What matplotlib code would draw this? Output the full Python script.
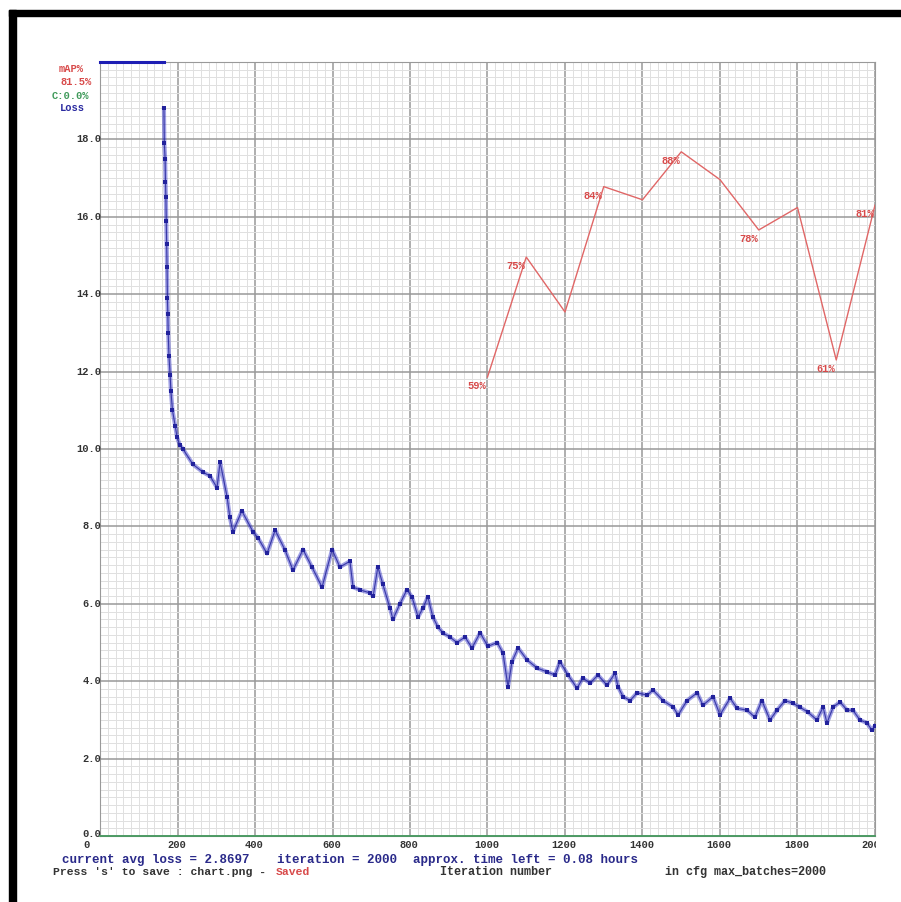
import matplotlib
matplotlib.use("Agg")
import matplotlib.pyplot as plt
from matplotlib.patches import Rectangle
from matplotlib.transforms import Bbox, TransformedBbox

max_batches = 2000
y_max = 20.0
clip_until = 165          # loss above chart top up to this iteration

loss_iters = [165, 166, 168, 169, 170, 171, 172, 173, 174, 175, 176, 178, 181, 183, 187,
              194, 199, 206, 214, 240, 266, 284, 302, 310, 328, 335, 343, 366, 395, 408,
              431, 452, 477, 498, 524, 547, 573, 599, 619, 645, 653, 671, 697, 705, 717,
              730, 748, 756, 774, 792, 805, 821, 834, 846, 859, 872, 885, 903, 921, 942,
              960, 981, 1001, 1025, 1040, 1053, 1063, 1079, 1102, 1128, 1154, 1174, 1187,
              1208, 1231, 1246, 1265, 1285, 1308, 1329, 1337, 1350, 1368, 1386, 1412, 1427,
              1453, 1479, 1492, 1515, 1541, 1556, 1582, 1600, 1626, 1644, 1670, 1690, 1708,
              1729, 1747, 1768, 1788, 1806, 1827, 1850, 1866, 1876, 1892, 1910, 1928, 1943,
              1961, 1979, 1992, 2000]
loss_values = [18.8, 17.9, 17.5, 16.9, 16.5, 15.9, 15.3, 14.7, 13.9, 13.5, 13.0, 12.4, 11.9,
               11.5, 11.0, 10.6, 10.3, 10.1, 10.0, 9.6, 9.4, 9.3, 9.0, 9.66, 8.76, 8.24, 7.86,
               8.4, 7.86, 7.7, 7.3, 7.9, 7.4, 6.87, 7.4, 6.95, 6.43, 7.4, 6.95, 7.1, 6.43, 6.36,
               6.28, 6.2, 6.95, 6.5, 5.9, 5.6, 6.0, 6.36, 6.18, 5.66, 5.9, 6.18, 5.66, 5.4,
               5.25, 5.14, 5.0, 5.14, 4.86, 5.25, 4.9, 5.0, 4.73, 3.85, 4.5, 4.86, 4.55, 4.34,
               4.24, 4.16, 4.5, 4.16, 3.82, 4.08, 3.95, 4.16, 3.9, 4.2, 3.85, 3.6, 3.5, 3.7,
               3.64, 3.77, 3.5, 3.33, 3.13, 3.5, 3.7, 3.38, 3.6, 3.13, 3.56, 3.3, 3.25, 3.07,
               3.5, 3.0, 3.25, 3.5, 3.43, 3.33, 3.2, 3.0, 3.33, 2.92, 3.33, 3.46, 3.25, 3.25,
               3.0, 2.92, 2.74, 2.85]

map_iters = [1000, 1100, 1200, 1300, 1400, 1500, 1600, 1700, 1800, 1900, 2000]
map_values = [59.3, 74.8, 67.7, 83.9, 82.2, 88.4, 84.8, 78.3, 81.2, 61.5, 81.5]
map_labels = ["59%", "75%", "", "84%", "", "88%", "", "78%", "", "61%", "81%"]
precision_c = 0.0

x_ticks = [0, 200, 400, 600, 800, 1000, 1200, 1400, 1600, 1800, 2000]
y_ticks = [0, 2, 4, 6, 8, 10, 12, 14, 16, 18]

W, H = 901, 902
fig = plt.figure(figsize=(W / 100, H / 100), dpi=100)
fig.patch.set_facecolor("white")

def fx(px):
    return px / W

def fy(py):
    return 1 - py / H

ax = fig.add_axes([fx(100), fy(836), fx(875) - fx(100), fy(62) - fy(836)])
ax.set_xlim(0, max_batches)
ax.set_ylim(0, y_max)

# grid like darknet: major every 1/10, minor every 1/100
ax.set_xticks(range(0, max_batches + 1, 200))
ax.set_xticks(range(0, max_batches + 1, 20), minor=True)
ax.set_yticks([v * 2 for v in range(11)])
ax.set_yticks([v * 0.2 for v in range(101)], minor=True)
ax.grid(which="minor", color="#e0e0e0", lw=0.7)
ax.grid(which="major", color="#999999", lw=1.1)
ax.tick_params(which="both", length=0, labelbottom=False, labelleft=False)
for s in ax.spines.values():
    s.set_color("#999999")
ax.set_axisbelow(True)

blue = "#2a2ac4"
red = "#d84a4a"
green = "#3f9a5a"

# loss
ax.plot([0, clip_until], [y_max, y_max], color="#1e1eb4", lw=2.2, clip_on=False, zorder=4)
ax.plot(loss_iters, loss_values, color=blue, lw=3.0, alpha=0.45, zorder=4)
ax.plot(loss_iters, loss_values, color="#20209a", lw=0.8, alpha=0.8, zorder=4)
ax.plot(loss_iters, loss_values, "s", color="#22229c", ms=2.2, mew=0, zorder=5)
ax.plot([0, max_batches], [precision_c, precision_c], color=green, lw=1.2, zorder=4, clip_on=False)

# mAP on its own 0..100 scale
ax2 = ax.twinx()
ax2.set_ylim(0, 100)
ax2.set_axis_off()
ax2.plot(map_iters, map_values, color="#e06666", lw=1.0)
for it, v, lab in zip(map_iters, map_values, map_labels):
    if lab:
        ax2.annotate(lab, (it, v), xytext=(-1, -9), textcoords="offset pixels",
                     ha="right", va="center", color=red, fontsize=7.5,
                     family="Liberation Mono", fontweight="bold")

mono = dict(family="Liberation Mono", fontweight="bold")
dark = "#333333"
clip = TransformedBbox(Bbox([[0, 0], [876 / W, 1]]), fig.transFigure)

for v in y_ticks:
    ax.annotate("%.1f" % v, (0, v), xytext=(1, 2 if v == 0 else 0), textcoords="offset pixels",
                ha="right", va="center", fontsize=7.5, color=dark, **mono)
for v in x_ticks:
    t = ax.annotate(str(v), (v, 0), xycoords=("data", "axes fraction"),
                    xytext=(-14 if v == 0 else -1, -9), textcoords="offset pixels",
                    ha="center", va="center", fontsize=7.5, color=dark, **mono)
    t.set_clip_box(clip)
    t.set_clip_on(True)

# legend-like labels at top left
fig.text(fx(59), fy(69), "mAP%", color=red, fontsize=7.5, va="center", **mono)
fig.text(fx(60), fy(82), "%.1f%%" % map_values[-1], color=red, fontsize=7.5, va="center", **mono)
fig.text(fx(52), fy(96), "C:%.1f%%" % precision_c, color=green, fontsize=7.5, va="center", **mono)
fig.text(fx(60), fy(108), "Loss", color="#2a2aa0", fontsize=7.5, va="center", **mono)

# bottom status lines
tb = "#2a2a8a"
fig.text(fx(62), fy(860), "current avg loss = 2.8697", color=tb, fontsize=9, va="center", **mono)
fig.text(fx(277), fy(860), "iteration = 2000", color=tb, fontsize=9, va="center", **mono)
fig.text(fx(413), fy(860), "approx. time left = 0.08 hours", color=tb, fontsize=9, va="center", **mono)
fig.text(fx(53), fy(872), "Press 's' to save : chart.png -", color=dark, fontsize=8.2, va="center", **mono)
fig.text(fx(276), fy(872), "Saved", color=red, fontsize=8.2, va="center", **mono)
fig.text(fx(440), fy(872), "Iteration number", color=dark, fontsize=8.5, va="center", **mono)
fig.text(fx(665), fy(872), "in cfg max_batches=2000", color=dark, fontsize=8.5, va="center", **mono)

# black frame of the screenshot
fig.patches.append(Rectangle((fx(9), 0), fx(16) - fx(9), fy(10), transform=fig.transFigure,
                             color="black", zorder=10))
fig.patches.append(Rectangle((fx(9), fy(16)), 1 - fx(9), fy(10) - fy(16), transform=fig.transFigure,
                             color="black", zorder=10))

fig.savefig("out.png", dpi=100, facecolor="white")
